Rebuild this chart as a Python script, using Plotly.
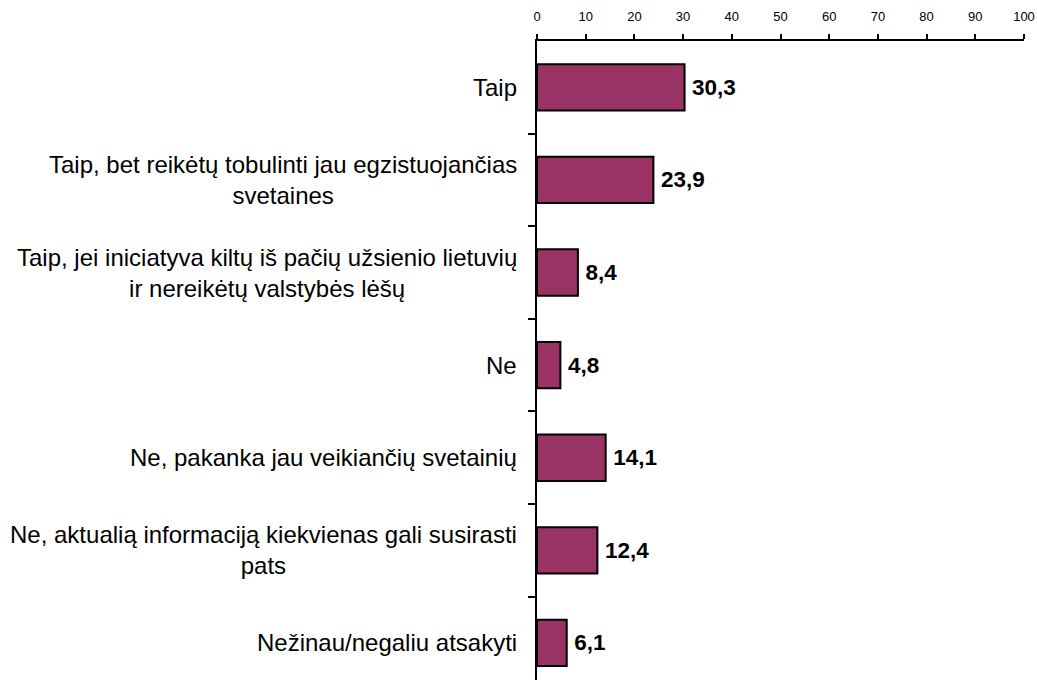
import plotly.graph_objects as go

# Survey answers and shares (%)
categories = [
    "Taip",
    "Taip, bet reikėtų tobulinti jau egzistuojančias<br>svetaines",
    "Taip, jei iniciatyva kiltų iš pačių užsienio lietuvių<br>ir nereikėtų valstybės lėšų",
    "Ne",
    "Ne, pakanka jau veikiančių svetainių",
    "Ne, aktualią informaciją kiekvienas gali susirasti<br>pats",
    "Nežinau/negaliu atsakyti",
]
values = [30.3, 23.9, 8.4, 4.8, 14.1, 12.4, 6.1]
x_ticks = [0, 10, 20, 30, 40, 50, 60, 70, 80, 90, 100]

FONT = "Liberation Sans, Arial, sans-serif"

fig = go.Figure()
fig.add_trace(go.Bar(
    y=list(range(len(categories))),
    x=values,
    orientation="h",
    width=0.5,
    marker=dict(color="#993366", line=dict(color="black", width=2)),
    texttemplate="\u2009%{x:.1f}",
    textposition="outside",
    textfont=dict(family=FONT, size=22.5, color="black", weight="bold"),
    cliponaxis=False,
    hoverinfo="skip",
))

# category labels as centred annotations left of the axis
for i, cat in enumerate(categories):
    fig.add_annotation(
        x=0, xref="paper", y=i, yref="y",
        text=cat, showarrow=False,
        xanchor="right", align="center", xshift=-18,
        font=dict(family=FONT, size=24, color="black"),
    )

fig.update_xaxes(
    side="top", range=[0, 100], tickvals=x_ticks,
    ticks="outside", ticklen=5, tickwidth=2, tickcolor="black",
    ticklabelstandoff=8,
    showline=True, linecolor="black", linewidth=2,
    showgrid=False, zeroline=False,
    tickfont=dict(family=FONT, size=13, color="black"),
)
fig.update_yaxes(
    range=[6.4, -0.5], tickvals=[i - 0.5 for i in range(1, len(categories))],
    showticklabels=False,
    ticks="outside", ticklen=7, tickwidth=2, tickcolor="black",
    showline=True, linecolor="black", linewidth=2,
    showgrid=False, zeroline=False,
)

fig.update_layout(
    width=1037, height=680,
    margin=dict(l=537, r=13, t=41, b=0),
    plot_bgcolor="white", paper_bgcolor="white",
    separators=", ",
    showlegend=False,
    font=dict(family=FONT),
)

# drop the default page margin / scrollbars so the figure fills the window exactly
fig.write_html(
    "out.html",
    config={"displayModeBar": False},
    post_script="document.body.style.margin='0px';"
                "document.documentElement.style.overflow='hidden';",
)
